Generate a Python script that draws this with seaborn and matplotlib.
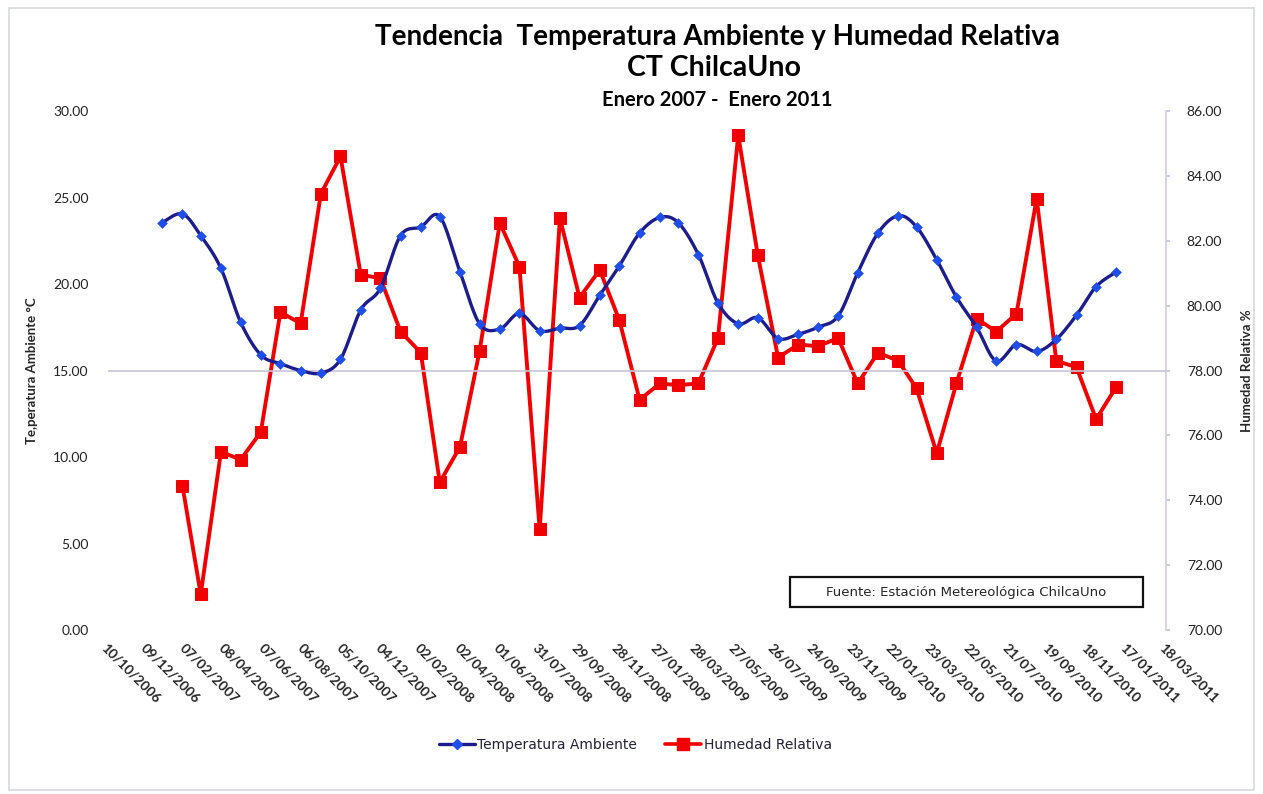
import numpy as np
import pandas as pd
import matplotlib
matplotlib.use('Agg')
import matplotlib.pyplot as plt
import matplotlib.dates as mdates
from matplotlib.lines import Line2D
from matplotlib.patches import Rectangle
import seaborn as sns

# monthly readings, Jan 2007 - Jan 2011
temperatura = [23.55, 24.05, 22.8, 20.9, 17.8, 15.9, 15.4, 15.0, 14.85, 15.65, 18.5, 19.75,
               22.8, 23.3, 23.9, 20.7, 17.7, 17.4, 18.3, 17.3, 17.45, 17.6, 19.35, 21.05,
               22.95, 23.85, 23.55, 21.7, 18.9, 17.7, 18.05, 16.85, 17.1, 17.5, 18.15, 20.65,
               22.95, 23.95, 23.3, 21.4, 19.25, 17.5, 15.55, 16.5, 16.1, 16.8, 18.2, 19.85,
               20.7]
# humidity starts in Feb 2007
humedad = [74.45, 71.1, 75.5, 75.25, 76.1, 79.8, 79.45, 83.45, 84.6, 80.95, 80.85,
           79.2, 78.55, 74.55, 75.65, 78.6, 82.55, 81.2, 73.1, 82.7, 80.25, 81.1, 79.55,
           77.1, 77.6, 77.55, 77.6, 79.0, 85.25, 81.55, 78.4, 78.8, 78.75, 79.0, 77.6,
           78.55, 78.3, 77.45, 75.45, 77.6, 79.6, 79.2, 79.75, 83.3, 78.3, 78.1, 76.5,
           77.5]
meses = pd.date_range('2007-01-01', '2011-01-01', freq='MS')
tick_fechas = pd.date_range('2006-10-10', '2011-03-18', freq='60D')

df_t = pd.DataFrame({'fecha': meses, 'valor': temperatura})
df_h = pd.DataFrame({'fecha': meses[1:], 'valor': humedad})


def suavizar(x, y, n=16):
    # catmull-rom curve through the points (Excel "smoothed line")
    P = np.column_stack([x, y])
    out = []
    for i in range(len(P) - 1):
        p0 = P[i - 1] if i > 0 else P[i]
        p1, p2 = P[i], P[i + 1]
        p3 = P[i + 2] if i + 2 < len(P) else P[i + 1]
        t = np.linspace(0, 1, n, endpoint=False)[:, None]
        seg = 0.5 * ((2 * p1) + (-p0 + p2) * t + (2 * p0 - 5 * p1 + 4 * p2 - p3) * t ** 2
                     + (-p0 + 3 * p1 - 3 * p2 + p3) * t ** 3)
        out.append(seg)
    out.append(P[-1:])
    out = np.vstack(out)
    return out[:, 0], out[:, 1]


sns.set_theme(style='white')
plt.rcParams['font.family'] = ['Lato', 'DejaVu Sans']

fig = plt.figure(figsize=(12.63, 7.94), dpi=100)
ax = fig.add_axes([0.0855, 0.2065, 0.8377, 0.6537])
ax2 = ax.twinx()

azul_linea = '#1c1c8c'
azul_marca = '#1f4fe8'
rojo = '#f00000'

# humidity (right axis)
sns.lineplot(data=df_h, x='fecha', y='valor', ax=ax2, color=rojo, lw=2.8,
             marker='s', markersize=9, markeredgecolor=rojo, zorder=3)

# temperature (left axis), smoothed line + diamonds
xs, ys = suavizar(mdates.date2num(df_t['fecha']), df_t['valor'].values)
ax.plot(xs, ys, color=azul_linea, lw=2.4, zorder=4)
sns.scatterplot(data=df_t, x='fecha', y='valor', ax=ax, color=azul_marca, marker='D',
                s=30, edgecolor=azul_marca, linewidth=0, zorder=5)
ax.set_zorder(ax2.get_zorder() + 1)
ax.patch.set_visible(False)

ax.set_ylim(0, 30)
ax.set_yticks(np.arange(0, 31, 5))
ax.yaxis.set_major_formatter(matplotlib.ticker.FormatStrFormatter('%.2f'))
ax2.set_ylim(70, 86)
ax2.set_yticks(np.arange(70, 87, 2))
ax2.yaxis.set_major_formatter(matplotlib.ticker.FormatStrFormatter('%.2f'))

ax.set_xlim(tick_fechas[0], tick_fechas[-1])
ax.set_xticks(tick_fechas)
ax.set_xticklabels([d.strftime('%d/%m/%Y') for d in tick_fechas], rotation=-45,
                   ha='left', va='top', rotation_mode='anchor', fontsize=10, fontweight='bold')
ax.tick_params(axis='x', pad=8, length=0)
ax.tick_params(axis='y', labelsize=10, pad=14, length=0, colors='#222222')
ax2.tick_params(axis='y', labelsize=10, pad=12, length=3, color='#c8c0dc', colors='#222222')

ax.axhline(15, color='#c8c4d8', lw=1.2, zorder=1)
for a in (ax, ax2):
    a.set_xlabel('')
    a.set_ylabel('')
    for s in a.spines.values():
        s.set_visible(False)
ax2.spines['right'].set_visible(True)
ax2.spines['right'].set_color('#d4cce4')
ax2.spines['right'].set_linewidth(1.2)

fig.text(0.568, 0.953, 'Tendencia  Temperatura Ambiente y Humedad Relativa', ha='center',
         va='center', fontsize=20, fontweight='bold', color='black')
fig.text(0.565, 0.914, 'CT ChilcaUno', ha='center', va='center', fontsize=20.5,
         fontweight='bold', color='black')
fig.text(0.568, 0.874, 'Enero 2007 -  Enero 2011', ha='center', va='center', fontsize=14.5,
         fontweight='bold', color='black')

fig.text(0.0253, 0.5334, 'Te,peratura Ambiente °C', rotation=90, ha='center', va='center',
         fontsize=9.5, fontweight='bold')
fig.text(0.987, 0.5334, 'Humedad Relativa %', rotation=90, ha='center', va='center',
         fontsize=9.5, fontweight='bold')

# source box
fig.patches.append(Rectangle((0.6255, 0.2355), 0.2795, 0.0378, transform=fig.transFigure,
                             fill=False, edgecolor='#111111', lw=1.6, zorder=10))
fig.text(0.7648, 0.2544, 'Fuente: Estación Metereológica ChilcaUno', ha='center', va='center',
         fontsize=9.5, family='DejaVu Sans', zorder=11)

# chart border
fig.patches.append(Rectangle((0.007, 0.005), 0.986, 0.985, transform=fig.transFigure,
                             fill=False, edgecolor='#d8d8e0', lw=1.2))

handles = [Line2D([0], [0], color=azul_linea, lw=2.4, marker='D', markersize=5,
                  markerfacecolor=azul_marca, markeredgecolor=azul_marca),
           Line2D([0], [0], color=rojo, lw=2.6, marker='s', markersize=8)]
fig.legend(handles, ['Temperatura Ambiente', 'Humedad Relativa'], loc='center',
           bbox_to_anchor=(0.503, 0.0617), ncol=2, frameon=False, handlelength=2.6,
           columnspacing=2.0, handletextpad=0.2,
           prop={'family': 'DejaVu Sans', 'size': 10}, labelcolor='#222233')

fig.savefig('out.png', dpi=100)
